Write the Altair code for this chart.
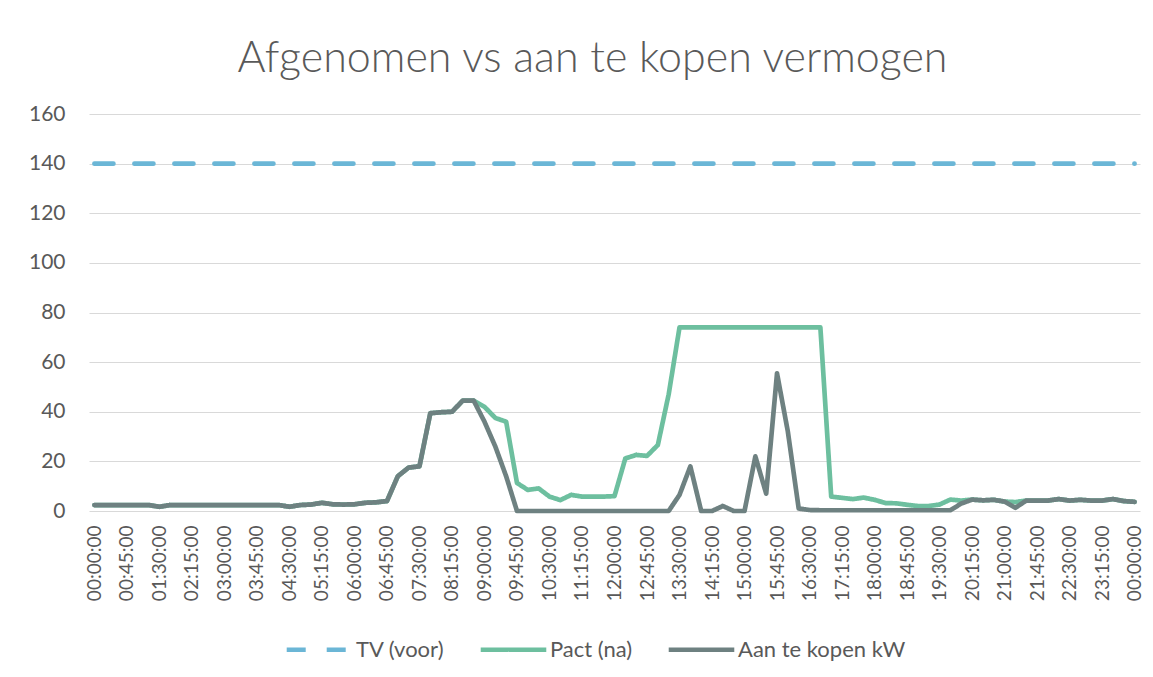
import altair as alt
import pandas as pd

# ---- data (15-minute steps, 00:00 .. 24:00) ----
series_names = ["TV (voor)", "Pact (na)", "Aan te kopen kW"]
series_colors = ["#6BB6D6", "#6DBF9F", "#6E8181"]

tick_labels = ["00:00:00", "00:45:00", "01:30:00", "02:15:00", "03:00:00", "03:45:00",
               "04:30:00", "05:15:00", "06:00:00", "06:45:00", "07:30:00", "08:15:00",
               "09:00:00", "09:45:00", "10:30:00", "11:15:00", "12:00:00", "12:45:00",
               "13:30:00", "14:15:00", "15:00:00", "15:45:00", "16:30:00", "17:15:00",
               "18:00:00", "18:45:00", "19:30:00", "20:15:00", "21:00:00", "21:45:00",
               "22:30:00", "23:15:00", "00:00:00"]

tv_voor = [140] * 97

aan_te_kopen = [
    2.4, 2.4, 2.4, 2.4, 2.4, 2.4, 1.7, 2.4, 2.4, 2.4,
    2.4, 2.4, 2.4, 2.4, 2.4, 2.4, 2.4, 2.4, 1.7, 2.4,
    2.6, 3.3, 2.7, 2.6, 2.7, 3.3, 3.5, 4.0, 14.0, 17.5,
    18.0, 39.4, 39.8, 40.0, 44.5, 44.5, 36.0, 26.0, 14.0, 0.0,
    0.0, 0.0, 0.0, 0.0, 0.0, 0.0, 0.0, 0.0, 0.0, 0.0,
    0.0, 0.0, 0.0, 0.0, 6.5, 18.0, 0.0, 0.0, 2.0, 0.0,
    0.0, 22.0, 7.0, 55.5, 32.0, 1.0, 0.4, 0.3, 0.3, 0.3,
    0.3, 0.3, 0.3, 0.3, 0.3, 0.3, 0.3, 0.3, 0.3, 0.3,
    3.0, 4.6, 4.3, 4.5, 3.8, 1.3, 4.2, 4.2, 4.2, 4.8,
    4.2, 4.5, 4.2, 4.2, 4.8, 4.0, 3.7,
]

pact_na = [
    2.4, 2.4, 2.4, 2.4, 2.4, 2.4, 1.7, 2.4, 2.4, 2.4,
    2.4, 2.4, 2.4, 2.4, 2.4, 2.4, 2.4, 2.4, 1.7, 2.4,
    2.6, 3.3, 2.7, 2.6, 2.7, 3.3, 3.5, 4.0, 14.0, 17.5,
    18.0, 39.4, 39.8, 40.0, 44.5, 44.5, 42.0, 37.5, 36.0, 11.3,
    8.5, 9.1, 5.8, 4.4, 6.5, 5.8, 5.8, 5.8, 6.0, 21.2,
    22.6, 22.2, 26.6, 47.0, 74.0, 74.0, 74.0, 74.0, 74.0, 74.0,
    74.0, 74.0, 74.0, 74.0, 74.0, 74.0, 74.0, 74.0, 5.8, 5.3,
    4.8, 5.4, 4.5, 3.2, 3.1, 2.5, 2.0, 2.0, 2.6, 4.6,
    4.2, 4.6, 4.3, 4.5, 3.8, 3.6, 4.2, 4.2, 4.2, 4.8,
    4.2, 4.5, 4.2, 4.2, 4.8, 4.0, 3.7,
]

rows = []
for name, vals in zip(series_names, [tv_voor, pact_na, aan_te_kopen]):
    for i, v in enumerate(vals):
        rows.append({"idx": i, "value": v, "series": name})
df = pd.DataFrame(rows)

label_js = "[" + ",".join("'" + t + "'" for t in tick_labels) + "]"

FONT = "Lato"
TXT = "#595959"

legend = alt.Legend(
    title=None, orient="none", legendX=195, legendY=500, direction="horizontal",
    symbolType="stroke", symbolSize=4300, symbolStrokeWidth=4.5,
    labelFont=FONT, labelFontSize=22, labelColor=TXT, labelOffset=1,
    labelLimit=400, columnPadding=26,
)

x_enc = alt.X(
    "idx:Q",
    scale=alt.Scale(domain=[-0.5, 96.5], nice=False, zero=False),
    axis=alt.Axis(
        values=list(range(0, 97, 3)),
        labelExpr=label_js + "[round(datum.value/3)]",
        labelAngle=270, labelAlign="right", labelBaseline="middle",
        labelPadding=14, labelFont=FONT, labelFontSize=19, labelColor=TXT,
        domain=False, ticks=False, grid=False, title=None, labelOverlap=False,
    ),
)
y_enc = alt.Y(
    "value:Q",
    scale=alt.Scale(domain=[0, 160], nice=False),
    axis=alt.Axis(
        values=list(range(0, 161, 20)),
        grid=True, gridColor="#D9D9D9", gridWidth=1.2,
        domain=False, ticks=False, labelPadding=24,
        labelFont=FONT, labelFontSize=21, labelColor=TXT, title=None,
    ),
)
color_enc = alt.Color("series:N", scale=alt.Scale(domain=series_names, range=series_colors),
                      legend=legend, sort=series_names)
dash_enc = alt.StrokeDash("series:N",
                          scale=alt.Scale(domain=series_names, range=[[19, 21], [1, 0], [1, 0]]),
                          legend=legend, sort=series_names)

layers = []
for name in series_names:
    layers.append(
        alt.Chart(df)
        .transform_filter(alt.datum.series == name)
        .mark_line(strokeWidth=4.7, strokeCap="round", strokeJoin="round")
        .encode(x=x_enc, y=y_enc, color=color_enc, strokeDash=dash_enc)
    )

chart = (
    alt.layer(*layers)
    .properties(
        width=1051, height=397,
        autosize=alt.AutoSizeParams(type="none"),
        padding={"left": 81, "top": 106, "right": 5, "bottom": 160},
        title=alt.TitleParams(
            "Afgenomen vs aan te kopen vermogen", font=FONT, fontWeight=300,
            fontSize=43, color=TXT, anchor="middle", dx=-22, offset=22,
        ),
    )
    .configure(background="white", view=alt.ViewConfig(stroke=None))
)

chart.save("out.html", embed_options={"renderer": "svg", "actions": False})
